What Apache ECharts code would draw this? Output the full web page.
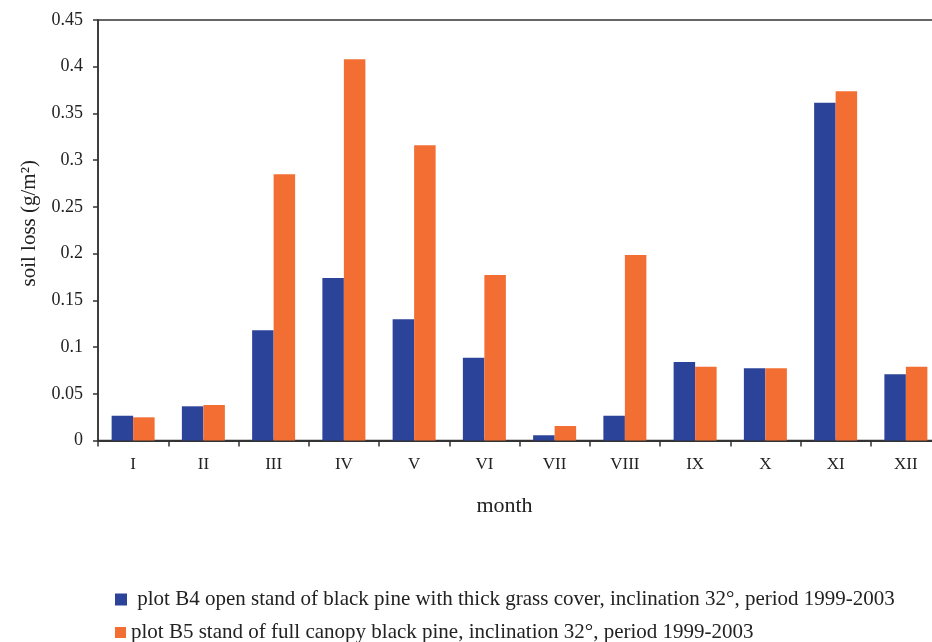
<!DOCTYPE html>
<html>
<head>
<meta charset="utf-8">
<script src="https://cdn.jsdelivr.net/npm/echarts@6/dist/echarts.min.js"></script>
<style>
html,body{margin:0;padding:0;background:#fff;}
#chart{width:932px;height:642px;}
</style>
</head>
<body>
<div id="chart"></div>
<script>
const months = ['I','II','III','IV','V','VI','VII','VIII','IX','X','XI','XII'];
const seriesB4Name = ' plot B4 open stand of black pine with thick grass cover, inclination 32°, period 1999-2003';
const seriesB5Name = 'plot B5 stand of full canopy black pine, inclination 32°, period 1999-2003';
const b4Values = [0.0265, 0.0366, 0.118, 0.174, 0.1297, 0.0886, 0.0056, 0.0265, 0.084, 0.0773, 0.3615, 0.0708];
const b5Values = [0.0248, 0.038, 0.285, 0.408, 0.316, 0.177, 0.0155, 0.1985, 0.079, 0.0773, 0.3737, 0.079];
const yTicks = {min: 0, max: 0.45, interval: 0.05};

const FONT = '"Liberation Serif", "DejaVu Serif", serif';
const legendText = {fontFamily: FONT, fontSize: 21, color: '#222'};
const chart = echarts.init(document.getElementById('chart'), null, {renderer: 'canvas'});
chart.setOption({
  backgroundColor: '#ffffff',
  animation: false,
  textStyle: {fontFamily: FONT},
  grid: {
    left: 98, top: 20, width: 843, height: 420.5,
    outerBoundsMode: 'none',
    containLabel: false,
    show: true, borderColor: '#333', borderWidth: 1.5, backgroundColor: 'transparent'
  },
  legend: [
    {left: 115, top: 589, padding: 0, itemWidth: 12, itemHeight: 12, itemGap: 6, icon: 'rect',
     textStyle: legendText, data: [seriesB4Name]},
    {left: 115, top: 622, padding: 0, itemWidth: 11, itemHeight: 11, icon: 'rect',
     textStyle: legendText, data: [seriesB5Name]}
  ],
  xAxis: {
    type: 'category',
    data: months,
    name: 'month',
    nameLocation: 'middle',
    nameGap: 55,
    nameTextStyle: {fontFamily: FONT, fontSize: 22, color: '#222', padding: [0, 30, 0, 0]},
    axisLine: {lineStyle: {color: '#333', width: 2}},
    axisTick: {show: true, length: 6, lineStyle: {color: '#333', width: 1.5}},
    axisLabel: {fontFamily: FONT, fontSize: 17, color: '#222', margin: 16}
  },
  yAxis: {
    type: 'value',
    min: yTicks.min, max: yTicks.max, interval: yTicks.interval,
    name: 'soil loss (g/m²)',
    nameLocation: 'middle',
    nameRotate: 90,
    nameGap: 58,
    nameTextStyle: {fontFamily: FONT, fontSize: 21, color: '#222', padding: [0, 0, 0, 14]},
    splitLine: {show: false},
    axisLine: {show: true, lineStyle: {color: '#333', width: 1.5}},
    axisTick: {show: true, length: 5, lineStyle: {color: '#333', width: 1.5}},
    axisLabel: {fontFamily: FONT, fontSize: 18, color: '#222', margin: 15}
  },
  series: [
    {name: seriesB4Name, type: 'bar', data: b4Values, barWidth: 21.5, barGap: '0%',
     itemStyle: {color: '#2B4399'}},
    {name: seriesB5Name, type: 'bar', data: b5Values, barWidth: 21.5, barGap: '0%',
     itemStyle: {color: '#F26E33'}}
  ]
});
</script>
</body>
</html>
